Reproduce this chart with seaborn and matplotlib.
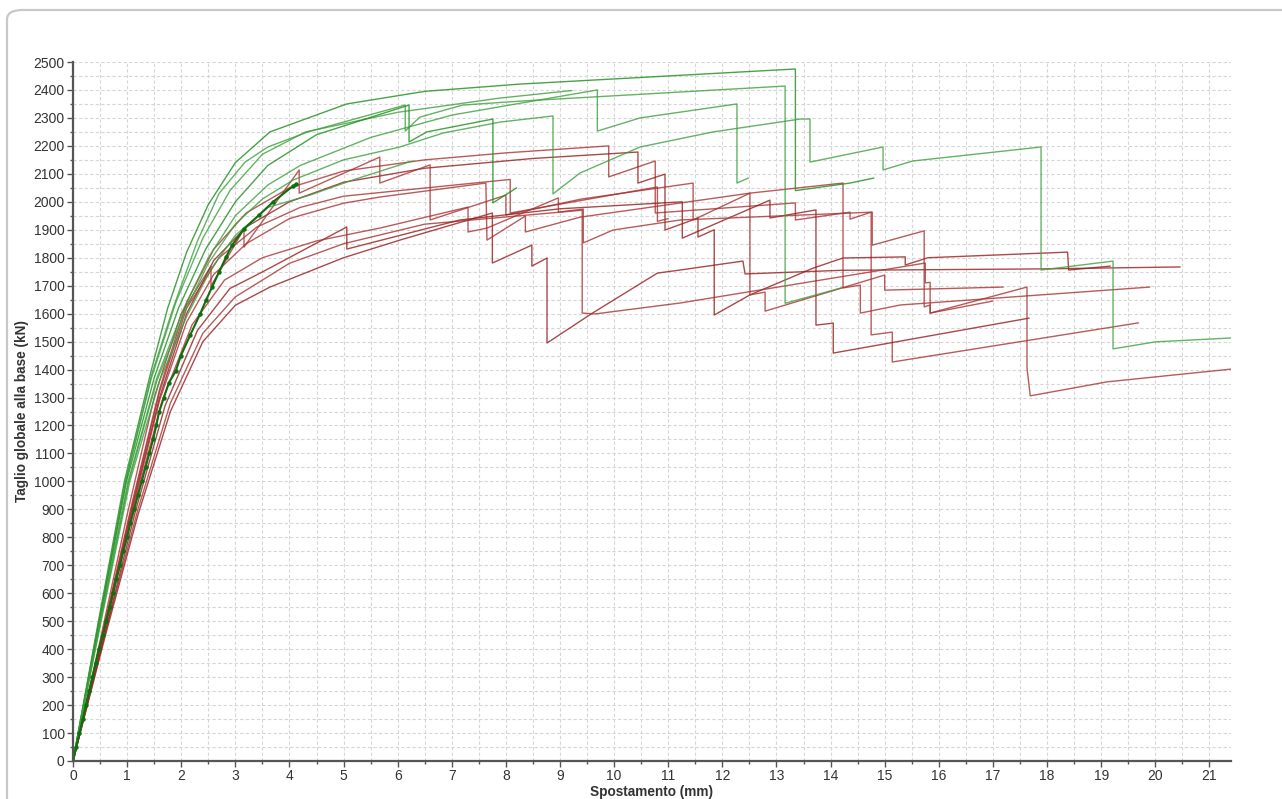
import numpy as np
import pandas as pd
import matplotlib
matplotlib.use("Agg")
import matplotlib.pyplot as plt
from matplotlib.patches import FancyBboxPatch
from matplotlib.ticker import MultipleLocator
import seaborn as sns

# ---- green curves ----
g1_x = [0, 0.47, 0.95, 1.45, 1.75, 2.1, 2.5, 3.0, 3.64, 5.06, 6.5, 8.26, 13.35, 13.35, 14.36, 14.8]
g1_y = [0, 500, 1000, 1400, 1620, 1820, 1990, 2140, 2250, 2350, 2395, 2421, 2475, 2040, 2067, 2085]
g2_x = [0, 0.48, 0.97, 1.45, 1.85, 2.3, 2.7, 3.18, 3.6, 4.34, 6.14, 6.14, 6.41, 7.2, 8.26, 13.16, 13.16, 14.2]
g2_y = [0, 500, 1000, 1380, 1620, 1860, 2030, 2142, 2196, 2250, 2346, 2253, 2303, 2346, 2360, 2414, 1637, 1692]
g3_x = [0, 0.51, 1.03, 1.55, 2.05, 2.5, 3.0, 3.5, 4.07, 5.0, 6.04, 6.84, 7.89, 8.87, 8.87, 9.37, 10.48, 11.83,
        13.44, 13.62, 13.62, 14.97, 14.97, 15.52, 17.89, 17.89, 19.22, 19.22, 20.0, 21.4]
g3_y = [0, 500, 1000, 1360, 1600, 1780, 1920, 2010, 2078, 2150, 2196, 2246, 2285, 2307, 2028, 2103, 2196, 2250,
        2296, 2296, 2142, 2196, 2114, 2146, 2196, 1756, 1788, 1474, 1499, 1513]
g4_x = [0, 0.48, 0.97, 1.45, 1.9, 2.4, 2.9, 3.5, 4.3, 6.0, 7.89, 9.22]
g4_y = [0, 500, 1000, 1370, 1640, 1870, 2040, 2170, 2250, 2320, 2371, 2398]
g5_x = [0, 0.49, 0.99, 1.5, 1.95, 2.45, 3.0, 3.6, 4.5, 6.21, 6.21, 6.54, 7.76, 7.76, 8.2]
g5_y = [0, 500, 1000, 1370, 1620, 1830, 2000, 2130, 2240, 2346, 2214, 2250, 2296, 1996, 2050]
g6_x = [0, 0.5, 1.02, 1.55, 2.05, 2.5, 3.0, 3.6, 4.2, 5.5, 7.0, 7.89, 9.69, 9.69, 10.48, 12.27, 12.27, 12.48]
g6_y = [0, 500, 1000, 1370, 1620, 1800, 1950, 2060, 2130, 2230, 2310, 2340, 2400, 2253, 2300, 2350, 2067, 2085]
g7_x = [0, 0.52, 1.05, 1.6, 2.1, 2.55, 3.0, 3.6, 4.38, 5.2, 6.27]
g7_y = [0, 500, 1000, 1360, 1590, 1760, 1880, 1980, 2024, 2080, 2146]

# ---- marked curve (dark green with dots) ----
mk_x = [0, 0.06, 0.12, 0.18, 0.24, 0.3, 0.36, 0.42, 0.48, 0.55, 0.61, 0.68, 0.74, 0.8, 0.87, 0.93, 1.0,
        1.06, 1.13, 1.2, 1.27, 1.34, 1.41, 1.48, 1.54, 1.59, 1.68, 1.77, 1.9, 1.99, 2.17, 2.35, 2.46,
        2.57, 2.7, 2.83, 2.94, 3.16, 3.44, 3.7, 4.07, 4.12]
mk_y = [0, 50, 100, 150, 200, 250, 300, 350, 400, 450, 500, 550, 600, 650, 700, 750, 800,
        850, 900, 950, 1000, 1050, 1100, 1150, 1200, 1248, 1300, 1352, 1395, 1448, 1525, 1599, 1649,
        1695, 1749, 1803, 1845, 1903, 1953, 2000, 2057, 2062]

# ---- red curves ----
ra_x = [0, 0.55, 1.1, 1.6, 2.1, 2.6, 3.2, 4.0, 5.0, 6.5, 8.0, 9.9, 9.9, 10.76, 10.76, 13.35, 13.35, 14.36,
        14.36, 14.75, 14.75, 15.14, 15.14, 19.69]
ra_y = [0, 460, 930, 1330, 1640, 1830, 1960, 2050, 2110, 2150, 2175, 2200, 2089, 2146, 1960, 1996, 1935, 1963,
        1938, 1963, 1524, 1534, 1427, 1567]
rb_x = [0, 0.55, 1.1, 1.6, 2.1, 2.6, 3.2, 4.0, 5.0, 6.5, 8.5, 10.44, 10.44, 10.94, 10.94, 11.55, 11.55,
        11.85, 11.85, 12.51, 13.68, 14.23, 15.38, 15.38, 15.8, 18.38, 18.4, 19.17]
rb_y = [0, 450, 910, 1300, 1600, 1790, 1910, 2000, 2070, 2120, 2155, 2178, 2067, 2099, 1899, 1942, 1874,
        1900, 1595, 1667, 1763, 1799, 1803, 1774, 1800, 1820, 1756, 1770]
rc_x = [0, 0.5, 1.0, 1.5, 2.0, 2.55, 2.55, 3.16, 3.16, 4.18, 4.18, 5.67, 5.67, 6.6, 6.6, 8.0, 8.0, 9.4,
        11.46, 11.46, 12.51, 12.51, 12.79, 12.79, 15.0, 15.0, 17.19]
rc_y = [0, 430, 880, 1300, 1600, 1770, 1699, 1903, 1838, 2114, 2031, 2160, 2067, 2132, 1935, 2024, 1953, 2010,
        2067, 1935, 2031, 1667, 1677, 1609, 1738, 1684, 1695]
rd_x = [0, 0.6, 1.2, 1.8, 2.4, 3.0, 3.64, 5.0, 6.04, 7.75, 7.75, 8.48, 8.48, 8.76, 8.76, 9.6, 10.8, 11.22,
        12.38, 12.42, 14.2, 17.9, 20.46]
rd_y = [0, 450, 880, 1250, 1500, 1630, 1695, 1800, 1863, 1960, 1781, 1845, 1770, 1799, 1495, 1602, 1745, 1756,
        1788, 1742, 1755, 1760, 1767]
re_x = [0, 0.55, 1.1, 1.6, 2.1, 2.6, 3.2, 4.0, 5.0, 5.67, 7.63, 7.65, 8.36, 8.36, 9.37, 12.51, 14.23, 14.23,
        14.55, 14.55, 15.29, 19.9]
re_y = [0, 445, 900, 1290, 1570, 1740, 1850, 1940, 1995, 2017, 2067, 1863, 1949, 1892, 1945, 2031, 2067, 1692,
        1702, 1602, 1631, 1695]
rg_x = [0, 0.6, 1.2, 1.8, 2.4, 3.0, 4.0, 5.0, 6.5, 9.41, 9.41, 9.65, 11.22, 15.75, 15.75, 15.84, 15.84, 17.0]
rg_y = [0, 460, 900, 1280, 1530, 1660, 1780, 1850, 1920, 1970, 1602, 1599, 1638, 1781, 1710, 1712, 1602, 1645]
rk_x = [0, 0.58, 1.15, 1.7, 2.3, 2.9, 3.46, 5.06, 5.06, 7.15, 9.0, 11.26, 11.26, 12.88, 12.88, 13.73, 13.73,
        14.05, 14.05, 17.67]
rk_y = [0, 450, 890, 1270, 1540, 1690, 1745, 1910, 1831, 1935, 1975, 2000, 1870, 2006, 1942, 1971, 1559,
        1566, 1459, 1584]
rl_x = [0, 0.55, 1.1, 1.65, 2.2, 2.8, 3.5, 4.5, 5.67, 7.3, 7.3, 7.65, 8.97, 8.97, 9.43, 9.43, 9.98, 11.22,
        14.77, 14.77, 15.73, 15.73, 15.84, 15.84, 17.63, 17.63, 17.69, 19.11, 21.42]
rl_y = [0, 440, 890, 1290, 1560, 1720, 1800, 1860, 1906, 1981, 1892, 1906, 2014, 1963, 1974, 1853, 1899, 1935,
        1963, 1845, 1896, 1624, 1631, 1602, 1695, 1406, 1306, 1356, 1402]
ro_x = [0, 0.55, 1.1, 1.6, 2.1, 2.7, 3.4, 4.2, 5.0, 8.08, 8.08, 10.8, 10.8, 11.0]
ro_y = [0, 455, 920, 1320, 1620, 1800, 1910, 1980, 2020, 2080, 1960, 2053, 1930, 1940]

green_curves = [(g1_x, g1_y, "#1a8c1a"), (g2_x, g2_y, "#3da03d"), (g3_x, g3_y, "#3da03d"),
                (g4_x, g4_y, "#3da03d"), (g5_x, g5_y, "#1a8c1a"), (g6_x, g6_y, "#3da03d"),
                (g7_x, g7_y, "#3da03d")]
red_curves = [(ra_x, ra_y, "#a83232"), (rb_x, rb_y, "#951c1c"), (rc_x, rc_y, "#a83232"),
              (rd_x, rd_y, "#951c1c"), (re_x, re_y, "#a83232"), (rg_x, rg_y, "#a83232"),
              (rk_x, rk_y, "#951c1c"), (rl_x, rl_y, "#a83232"), (ro_x, ro_y, "#a83232")]

sns.set_theme(style="white")
plt.rcParams['font.family'] = ['Liberation Sans', 'DejaVu Sans']

fig = plt.figure(figsize=(12.82, 7.99), dpi=100)
card = FancyBboxPatch((7 / 1282, -0.05), 1.1, 1 - 10 / 799 + 0.05,
                      boxstyle="round,pad=0,rounding_size=0.012", transform=fig.transFigure,
                      facecolor="white", edgecolor="#c8c8c8", linewidth=1.6, zorder=-5)
fig.patches.append(card)

ax = fig.add_axes([73 / 1282, 1 - 761 / 799, (1231 - 73) / 1282, (761 - 62) / 799])
ax.set_zorder(2)
ax.patch.set_alpha(0)

for xs, ys, col in red_curves:
    df = pd.DataFrame({"x": xs, "y": ys})
    sns.lineplot(data=df, x="x", y="y", ax=ax, sort=False, estimator=None, color=col,
                 linewidth=1.0, alpha=0.8)
for xs, ys, col in green_curves:
    df = pd.DataFrame({"x": xs, "y": ys})
    sns.lineplot(data=df, x="x", y="y", ax=ax, sort=False, estimator=None, color=col,
                 linewidth=1.0, alpha=0.8)

mk = pd.DataFrame({"x": mk_x, "y": mk_y})
sns.lineplot(data=mk, x="x", y="y", ax=ax, sort=False, estimator=None, color="#0f6e0f",
             linewidth=1.5, marker="o", markersize=3.2, markeredgewidth=0)

ax.set_xlim(0, 21.4)
ax.set_ylim(0, 2500)
ax.xaxis.set_major_locator(MultipleLocator(1))
ax.xaxis.set_minor_locator(MultipleLocator(0.5))
ax.yaxis.set_major_locator(MultipleLocator(100))
ax.yaxis.set_minor_locator(MultipleLocator(50))
ax.grid(True, which="both", color="#d6d6d6", linestyle=(0, (3, 2)), linewidth=0.8)
ax.set_axisbelow(True)

for side in ["top", "right"]:
    ax.spines[side].set_visible(False)
for side in ["left", "bottom"]:
    ax.spines[side].set_color("#555555")
    ax.spines[side].set_linewidth(1.6)
ax.tick_params(which="major", direction="out", length=4, width=1, color="#555555",
               labelsize=10, labelcolor="#333333", left=True, bottom=True, pad=2)
ax.tick_params(which="minor", direction="out", length=2.5, width=1, color="#555555",
               left=True, bottom=True)

ax.set_xlabel("Spostamento (mm)", fontsize=9.8, fontweight="bold", color="#333333", labelpad=1)
ax.set_ylabel("Taglio globale alla base (kN)", fontsize=9.8, fontweight="bold", color="#333333",
              labelpad=3)

fig.savefig("out.png", dpi=100)
